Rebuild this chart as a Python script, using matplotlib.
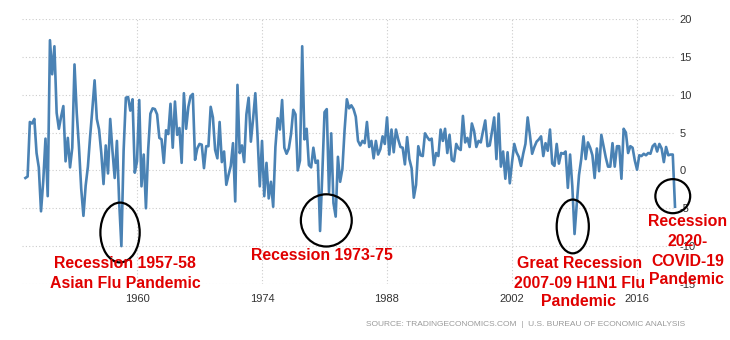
import matplotlib.pyplot as plt
import numpy as np
from matplotlib.patches import Ellipse

# US GDP growth rate, quarterly, annualized (%), 1947 Q2 .. 2020 Q1
start_year = 1947
start_quarter = 2
growth = [
    -1.0, -0.8, 6.4,              # 1947 (Q2-Q4)
    6.2, 6.8, 2.3, 0.4,           # 1948
    -5.4, -1.4, 4.2, -3.4,        # 1949
    17.2, 12.7, 16.4, 7.6,        # 1950
    5.5, 7.1, 8.5, 1.2,           # 1951
    4.3, 0.4, 3.0, 14.0,          # 1952
    7.6, 3.1, -2.4, -6.0,         # 1953
    -2.0, 0.5, 4.5, 8.1,          # 1954
    11.9, 6.8, 5.4, 2.3,          # 1955
    -1.8, 3.3, -0.4, 6.8,         # 1956
    2.6, -1.0, 3.9, -4.1,         # 1957
    -10.0, 2.6, 9.6, 9.7,         # 1958
    7.9, 9.4, -0.3, 1.2,          # 1959
    9.3, -2.1, 2.1, -5.0,         # 1960
    2.7, 7.5, 8.2, 8.1,           # 1961
    7.4, 4.3, 4.1, 1.0,           # 1962
    5.3, 4.8, 8.8, 3.0,           # 1963
    9.1, 4.7, 5.6, 1.0,           # 1964
    10.2, 5.5, 8.4, 9.8,          # 1965
    10.1, 1.4, 2.9, 3.5,          # 1966
    3.4, 0.3, 3.2, 3.2,           # 1967
    8.4, 7.0, 2.7, 1.6,           # 1968
    6.4, 1.1, 2.5, -1.9,          # 1969
    -0.6, 0.6, 3.6, -4.1,         # 1970
    11.3, 2.3, 3.3, 1.1,          # 1971
    7.4, 9.6, 3.8, 6.8,           # 1972
    10.2, 4.5, -2.1, 3.9,         # 1973
    -3.4, 1.0, -3.7, -1.5,        # 1974
    -4.8, 3.1, 6.9, 5.4,          # 1975
    9.3, 3.0, 2.2, 2.9,           # 1976
    4.8, 8.0, 7.4, 0.0,           # 1977
    1.3, 16.4, 4.1, 5.5,          # 1978
    0.7, 0.4, 3.0, 1.0,           # 1979
    1.3, -8.0, -0.5, 7.7,         # 1980
    8.1, -2.9, 4.9, -4.3,         # 1981
    -6.1, 1.8, -1.5, 0.2,         # 1982
    5.4, 9.4, 8.2, 8.6,           # 1983
    8.1, 7.1, 3.9, 3.3,           # 1984
    3.9, 3.6, 6.4, 3.1,           # 1985
    3.9, 1.6, 3.9, 2.1,           # 1986
    2.8, 4.5, 3.5, 7.0,           # 1987
    2.1, 5.4, 2.4, 5.4,           # 1988
    4.1, 3.1, 3.0, 0.8,           # 1989
    4.4, 1.5, 0.3, -3.6,          # 1990
    -1.9, 3.2, 2.0, 1.9,          # 1991
    4.9, 4.4, 4.0, 4.2,           # 1992
    0.7, 2.3, 1.9, 5.4,           # 1993
    3.9, 5.5, 2.3, 4.7,           # 1994
    1.4, 1.2, 3.5, 2.9,           # 1995
    2.7, 7.2, 3.7, 4.3,           # 1996
    3.1, 6.2, 5.2, 3.1,           # 1997
    3.9, 3.7, 5.2, 6.6,           # 1998
    3.2, 3.3, 5.1, 7.0,           # 1999
    1.5, 7.5, 0.5, 2.5,           # 2000
    -1.1, 2.4, -1.7, 1.1,         # 2001
    3.5, 2.4, 1.8, 0.6,           # 2002
    2.2, 3.5, 7.0, 4.7,           # 2003
    2.2, 3.1, 3.8, 4.1,           # 2004
    4.5, 1.9, 3.6, 2.6,           # 2005
    5.4, 0.9, 0.6, 3.5,           # 2006
    0.9, 2.3, 2.2, 2.5,           # 2007
    -2.3, 2.1, -2.1, -8.4,        # 2008
    -4.4, -0.6, 1.5, 4.5,         # 2009
    1.5, 3.7, 3.0, 2.0,           # 2010
    -1.0, 2.9, -0.1, 4.7,         # 2011
    3.2, 1.7, 0.5, 0.5,           # 2012
    3.6, 0.5, 3.2, 3.2,           # 2013
    -1.1, 5.5, 5.0, 2.3,          # 2014
    3.2, 3.0, 1.3, 0.1,           # 2015
    2.0, 1.9, 2.2, 2.0,           # 2016
    2.3, 2.2, 3.2, 3.5,           # 2017
    2.5, 3.5, 2.9, 1.1,           # 2018
    3.1, 2.0, 2.1, 2.1,           # 2019
    -4.8,                         # 2020 Q1
]

x_ticks = [1960, 1974, 1988, 2002, 2016]
y_ticks = [-15, -10, -5, 0, 5, 10, 15, 20]

# circled episodes: (centre year, centre value, width in years, height)
circles = [
    (1958.1, -8.2, 4.4, 7.9),
    (1981.2, -6.6, 5.7, 6.9),
    (2008.8, -7.4, 3.6, 7.1),
    (2020.0, -3.4, 3.9, 4.5),
]

# red notes, one entry per line: (text, x px, y px)
notes = [
    ("Recession 1957-58", 125, 263),
    ("Asian Flu Pandemic", 125, 283),
    ("Recession 1973-75", 322, 256),
    ("Great Recession", 580, 264),
    ("2007-09 H1N1 Flu", 580, 283),
    ("Pandemic", 578, 302),
    ("Recession", 688, 222),
    ("2020-", 688, 242),
    ("COVID-19", 688, 261),
    ("Pandemic", 687, 279),
]

# quarter-end dates
n = len(growth)
q_idx = np.arange(n) + (start_quarter - 1)
dates = start_year + (q_idx + 1) * 0.25

plt.rcParams['font.family'] = ['Liberation Sans', 'DejaVu Sans']
plt.rcParams['axes.unicode_minus'] = False

W, H = 730, 340
fig = plt.figure(figsize=(W / 100, H / 100), dpi=100)
ax = fig.add_axes([22 / W, 1 - 284 / H, (675 - 22) / W, (284 - 19) / H])

ax.plot(dates, growth, color='#4a82b4', lw=1.9, solid_joinstyle='round', clip_on=False, zorder=3)

ax.set_xlim(1947.12, 2020.25)
ax.set_ylim(-15, 20)
ax.set_xticks(x_ticks)
ax.set_yticks(y_ticks)
ax.yaxis.tick_right()
ax.tick_params(axis='both', length=0, labelsize=8, labelcolor='#333333')
ax.tick_params(axis='x', pad=7)
ax.tick_params(axis='y', pad=3)
ax.grid(True, color='#cccccc', ls=(0, (1, 2)), lw=0.8)
for s in ax.spines.values():
    s.set_visible(False)

for cx, cy, w, h in circles:
    ax.add_patch(Ellipse((cx, cy), w, h, fill=False, ec='black', lw=1.6, clip_on=False, zorder=4))

for txt, px, py in notes:
    fig.text(px / W, 1 - py / H, txt, color='#e00000', fontsize=11.4, fontweight='bold',
             ha='center', va='center')

fig.text(685 / W, 1 - 325 / H,
         'SOURCE: TRADINGECONOMICS.COM  |  U.S. BUREAU OF ECONOMIC ANALYSIS',
         color='#9a9a9a', fontsize=6, ha='right', va='center')

plt.savefig('out.png', dpi=100)
